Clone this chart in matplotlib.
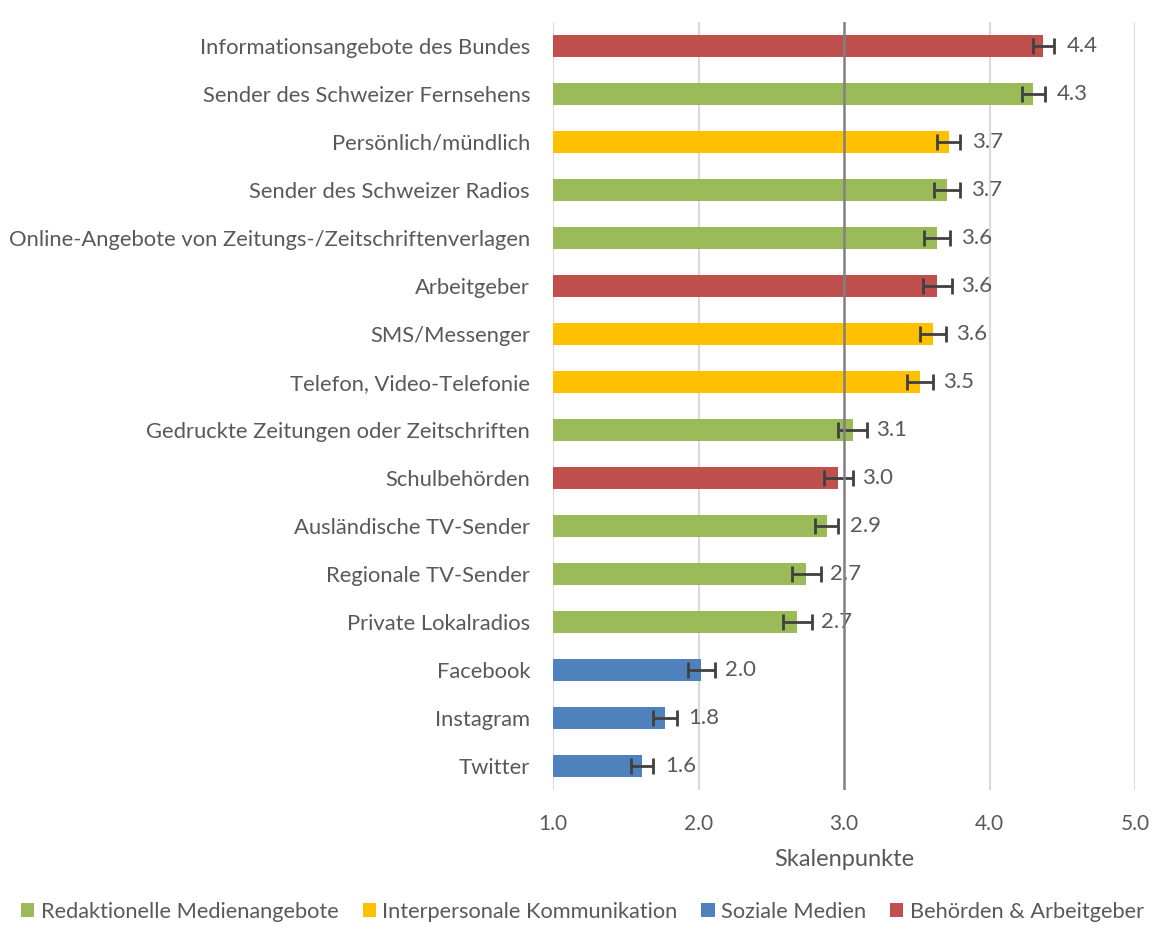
import matplotlib
matplotlib.use("Agg")
import matplotlib.pyplot as plt
from matplotlib.patches import Patch

categories = [
    "Informationsangebote des Bundes",
    "Sender des Schweizer Fernsehens",
    "Persönlich/mündlich",
    "Sender des Schweizer Radios",
    "Online-Angebote von Zeitungs-/Zeitschriftenverlagen",
    "Arbeitgeber",
    "SMS/Messenger",
    "Telefon, Video-Telefonie",
    "Gedruckte Zeitungen oder Zeitschriften",
    "Schulbehörden",
    "Ausländische TV-Sender",
    "Regionale TV-Sender",
    "Private Lokalradios",
    "Facebook",
    "Instagram",
    "Twitter",
]
values = [4.37, 4.30, 3.72, 3.71, 3.64, 3.64, 3.61, 3.52, 3.06, 2.96, 2.88, 2.74, 2.68, 2.02, 1.77, 1.61]
errors = [0.07, 0.08, 0.08, 0.09, 0.09, 0.10, 0.09, 0.09, 0.10, 0.10, 0.08, 0.10, 0.10, 0.09, 0.08, 0.075]
groups = ["B", "R", "I", "R", "R", "B", "I", "I", "R", "B", "R", "R", "R", "S", "S", "S"]

group_names = {
    "R": "Redaktionelle Medienangebote",
    "I": "Interpersonale Kommunikation",
    "S": "Soziale Medien",
    "B": "Behörden & Arbeitgeber",
}
group_colors = {"R": "#9BBB59", "I": "#FFC000", "S": "#4F81BD", "B": "#C0504D"}
legend_order = ["R", "I", "S", "B"]
xticks = [1.0, 2.0, 3.0, 4.0, 5.0]

plt.rcParams['font.family'] = ['Lato', 'DejaVu Sans']
txt = "#595959"

fig = plt.figure(figsize=(11.65, 9.27), dpi=100)
ax = fig.add_axes([553/1165, (927-790)/927, 582/1165, 768/927])

ypos = list(range(len(categories)))
base = 1.0
ax.barh(ypos, [v - base for v in values], left=base, height=0.46,
        color=[group_colors[g] for g in groups], zorder=3)
ax.errorbar(values, ypos, xerr=errors, fmt='none', ecolor="#404040",
            elinewidth=2, capsize=6, capthick=2, zorder=4)
for y, v in zip(ypos, values):
    ax.annotate(f"{v:.1f}", (v, y), xytext=(17, 0), textcoords="offset points",
                va="center", ha="left", fontsize=16, color=txt)

ax.set_xlim(1.0, 5.0)
ax.set_ylim(len(categories) - 0.5, -0.5)
ax.set_yticks(ypos)
ax.set_yticklabels(categories, fontsize=15.8, color=txt)
ax.set_xticks(xticks)
ax.set_xticklabels([f"{t:.1f}" for t in xticks], fontsize=15, color=txt)
ax.tick_params(axis='both', length=0)
ax.tick_params(axis='x', pad=17)
ax.tick_params(axis='y', pad=16.5)
for s in ax.spines.values():
    s.set_visible(False)
for t in xticks:
    if t == 3.0:
        ax.axvline(t, color="#808080", lw=1.8, zorder=5)
    else:
        ax.axvline(t, color="#D9D9D9", lw=1.5, zorder=1)
ax.set_xlabel("Skalenpunkte", fontsize=17, color=txt, labelpad=11)

handles = [Patch(facecolor=group_colors[g], label=group_names[g]) for g in legend_order]
leg = fig.legend(handles=handles, loc="center", bbox_to_anchor=(0.5, 1 - 912/927),
                 ncol=4, frameon=False, fontsize=15.7, handlelength=0.6, handleheight=0.6,
                 handletextpad=0.3, columnspacing=1.1)
for t in leg.get_texts():
    t.set_color(txt)

fig.savefig("out.png", dpi=100, facecolor="white")
